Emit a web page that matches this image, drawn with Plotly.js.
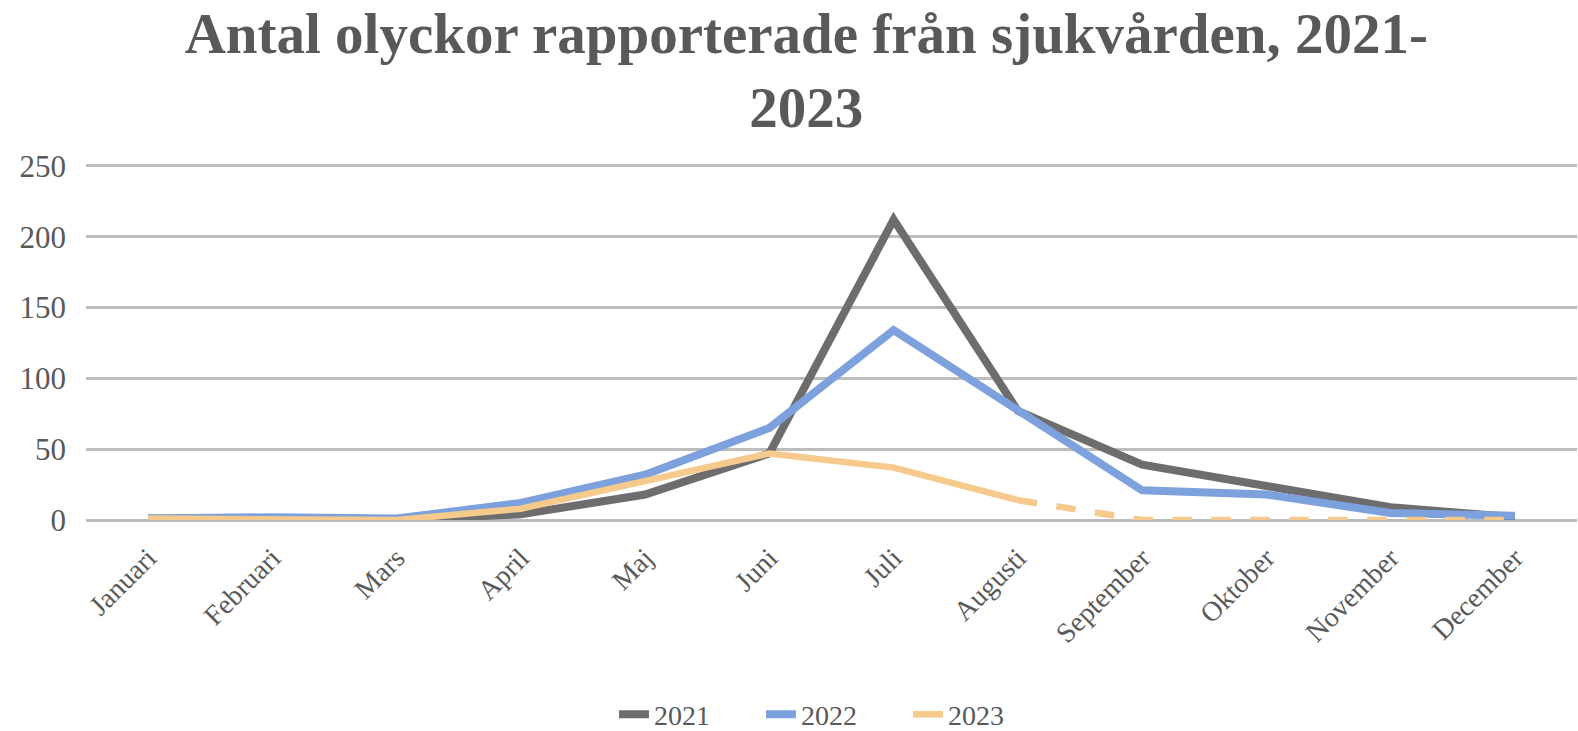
<!DOCTYPE html>
<html>
<head>
<meta charset="utf-8">
<script src="https://cdn.plot.ly/plotly-3.0.1.min.js"></script>
<style>
  html, body { margin: 0; padding: 0; background: #fff; }
  #chart { width: 1578px; height: 731px; }
</style>
</head>
<body>
<div id="chart"></div>
<script>
const months = ['Januari', 'Februari', 'Mars', 'April', 'Maj', 'Juni', 'Juli',
                'Augusti', 'September', 'Oktober', 'November', 'December'];
const y2021 = [1, 1, 0, 4, 18, 47, 212, 77, 39, 24, 9, 2];
const y2022 = [1, 2, 1, 12, 32, 65, 134, 78, 21, 18, 5, 3];
const y2023 = [1, 1, 0, 8, 27, 47, 37, 14, 0, 0, 0, 0];
// 2023 is drawn solid up to Augusti, dashed after that
const solidEnd2023 = 8;

const serif = '"Liberation Serif", "DejaVu Serif", serif';
const textColor = '#595959';

const traces = [
    {
        x: months, y: y2021, name: '2021', type: 'scatter', mode: 'lines',
        line: { color: '#6d6d6d', width: 8 }
    },
    {
        x: months, y: y2022, name: '2022', type: 'scatter', mode: 'lines',
        line: { color: '#7ca1dc', width: 8 }
    },
    {
        x: months.slice(0, solidEnd2023), y: y2023.slice(0, solidEnd2023),
        name: '2023', type: 'scatter', mode: 'lines', legendgroup: '2023',
        line: { color: '#f6c98c', width: 6.5 }
    },
    {
        x: months.slice(solidEnd2023 - 1), y: y2023.slice(solidEnd2023 - 1),
        name: '2023', type: 'scatter', mode: 'lines', legendgroup: '2023',
        showlegend: false,
        line: { color: '#f6c98c', width: 6.5, dash: 'dash' }
    }
];

const layout = {
    width: 1578,
    height: 731,
    paper_bgcolor: '#fff',
    plot_bgcolor: '#fff',
    margin: { l: 86, r: 1, t: 163, b: 211, autoexpand: false },
    title: {
        text: '<b>Antal olyckor rapporterade från sjukvården, 2021-<br>2023</b>',
        font: { family: serif, size: 57, color: textColor },
        x: 0.511, xanchor: 'center',
        y: 0.928, yanchor: 'top'
    },
    xaxis: {
        type: 'category',
        range: [-0.5, 11.5],
        tickangle: -45,
        tickfont: { family: serif, size: 28, color: textColor },
        showgrid: false,
        showline: false,
        ticks: '',
        zeroline: false,
        automargin: false,
        ticklabelstandoff: 15
    },
    yaxis: {
        range: [0, 252],
        tickvals: [0, 50, 100, 150, 200, 250],
        tickfont: { family: serif, size: 31, color: textColor },
        gridcolor: '#bdbdbd',
        gridwidth: 2.5,
        zeroline: true,
        zerolinecolor: '#bdbdbd',
        zerolinewidth: 2.5,
        showline: false,
        automargin: false,
        ticklabelstandoff: 19
    },
    showlegend: true,
    legend: {
        orientation: 'h',
        x: 0.502, xanchor: 'center',
        y: -0.545, yanchor: 'middle',
        font: { family: serif, size: 28, color: textColor },
        entrywidth: 102,
        entrywidthmode: 'pixels',
        tracegroupgap: 0
    }
};

Plotly.newPlot('chart', traces, layout, { displayModeBar: false, responsive: false });
</script>
</body>
</html>
